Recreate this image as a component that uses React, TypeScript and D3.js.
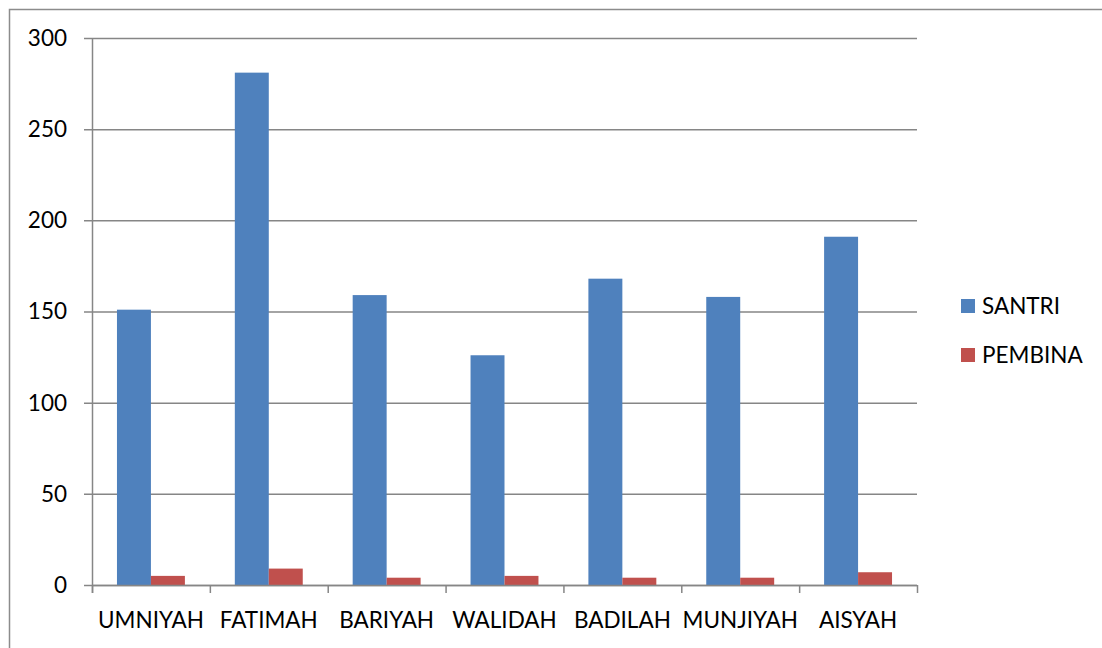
import React, { useRef, useEffect } from "react";
import * as d3 from "d3";

const categories = ["UMNIYAH", "FATIMAH", "BARIYAH", "WALIDAH", "BADILAH", "MUNJIYAH", "AISYAH"];
const santri = [151, 281, 159, 126, 168, 158, 191];
const pembina = [5, 9, 4, 5, 4, 4, 7];
const seriesNames = ["SANTRI", "PEMBINA"];
const seriesColors = ["#4F81BD", "#C0504D"];
const yTicks = [0, 50, 100, 150, 200, 250, 300];

const App = () => {
    const plot = useRef<SVGSVGElement>(null);

    const width = 1102;
    const height = 648;
    const left = 92;
    const right = 917;
    const top = 38;
    const bottom = 585;
    const font = "Lato, 'Open Sans', sans-serif";
    const fontSize = 22.5;

    useEffect(() => {
        const svg = d3.select(plot.current);
        svg.selectAll("*").remove();

        // outer frame
        svg.append("rect")
            .attr("x", 9.5).attr("y", 9.5)
            .attr("width", width + 20).attr("height", height + 20)
            .attr("fill", "none").attr("stroke", "#8c8c8c").attr("stroke-width", 1.5);

        const x = d3.scaleBand().domain(categories).range([left, right]).paddingInner(0).paddingOuter(0);
        const sub = d3.scaleBand().domain(seriesNames).range([0, x.bandwidth()]).paddingInner(0).paddingOuter(0.735);
        const y = d3.scaleLinear().domain([0, 300]).range([bottom, top]);

        // gridlines + y labels
        const yAxis = svg.append("g");
        yAxis.selectAll("line").data(yTicks).join("line")
            .attr("x1", left - 8).attr("x2", right)
            .attr("y1", d => y(d) + 0.5).attr("y2", d => y(d) + 0.5)
            .attr("stroke", "#868686").attr("stroke-width", 1.5);
        yAxis.selectAll("text").data(yTicks).join("text")
            .attr("x", 67).attr("y", d => y(d))
            .attr("dy", "0.35em")
            .attr("text-anchor", "end")
            .attr("font-family", font).attr("font-size", fontSize)
            .attr("fill", "#000")
            .text(d => d);

        // bars
        const data = [santri, pembina];
        svg.append("g").selectAll("g").data(seriesNames).join("g")
            .attr("fill", (d, i) => seriesColors[i])
            .selectAll("rect")
            .data((s, i) => categories.map((c, j) => ({ c, s, v: data[i][j] })))
            .join("rect")
            .attr("x", d => (x(d.c) as number) + (sub(d.s) as number))
            .attr("y", d => y(d.v))
            .attr("width", sub.bandwidth())
            .attr("height", d => y(0) - y(d.v));

        // y axis line
        svg.append("line")
            .attr("x1", left + 0.5).attr("x2", left + 0.5)
            .attr("y1", top).attr("y2", bottom + 8)
            .attr("stroke", "#868686").attr("stroke-width", 1.5);

        // x axis
        svg.append("line")
            .attr("x1", left).attr("x2", right)
            .attr("y1", bottom + 0.5).attr("y2", bottom + 0.5)
            .attr("stroke", "#868686").attr("stroke-width", 1.5);
        const xTicks = categories.map(c => x(c) as number).concat([right]);
        svg.append("g").selectAll("line").data(xTicks).join("line")
            .attr("x1", d => d + 0.5).attr("x2", d => d + 0.5)
            .attr("y1", bottom).attr("y2", bottom + 8)
            .attr("stroke", "#868686").attr("stroke-width", 1.5);
        svg.append("g").selectAll("text").data(categories).join("text")
            .attr("x", d => (x(d) as number) + x.bandwidth() / 2)
            .attr("y", 620)
            .attr("dy", "0.35em")
            .attr("text-anchor", "middle")
            .attr("font-family", font).attr("font-size", fontSize)
            .attr("fill", "#000")
            .text(d => d);

        // legend
        const legend = svg.append("g").attr("transform", "translate(961, 299)");
        legend.selectAll("rect").data(seriesNames).join("rect")
            .attr("x", 0).attr("y", (d, i) => i * 49)
            .attr("width", 14).attr("height", 14)
            .attr("fill", (d, i) => seriesColors[i]);
        legend.selectAll("text").data(seriesNames).join("text")
            .attr("x", 21).attr("y", (d, i) => i * 49 + 7)
            .attr("dy", "0.35em")
            .attr("font-family", font).attr("font-size", fontSize)
            .attr("fill", "#000")
            .text(d => d);
    });

    return (
        <svg ref={plot} width={width} height={height}
            style={{ position: "absolute", left: 0, top: 0, background: "#fff" }} />
    );
};

export default App;
